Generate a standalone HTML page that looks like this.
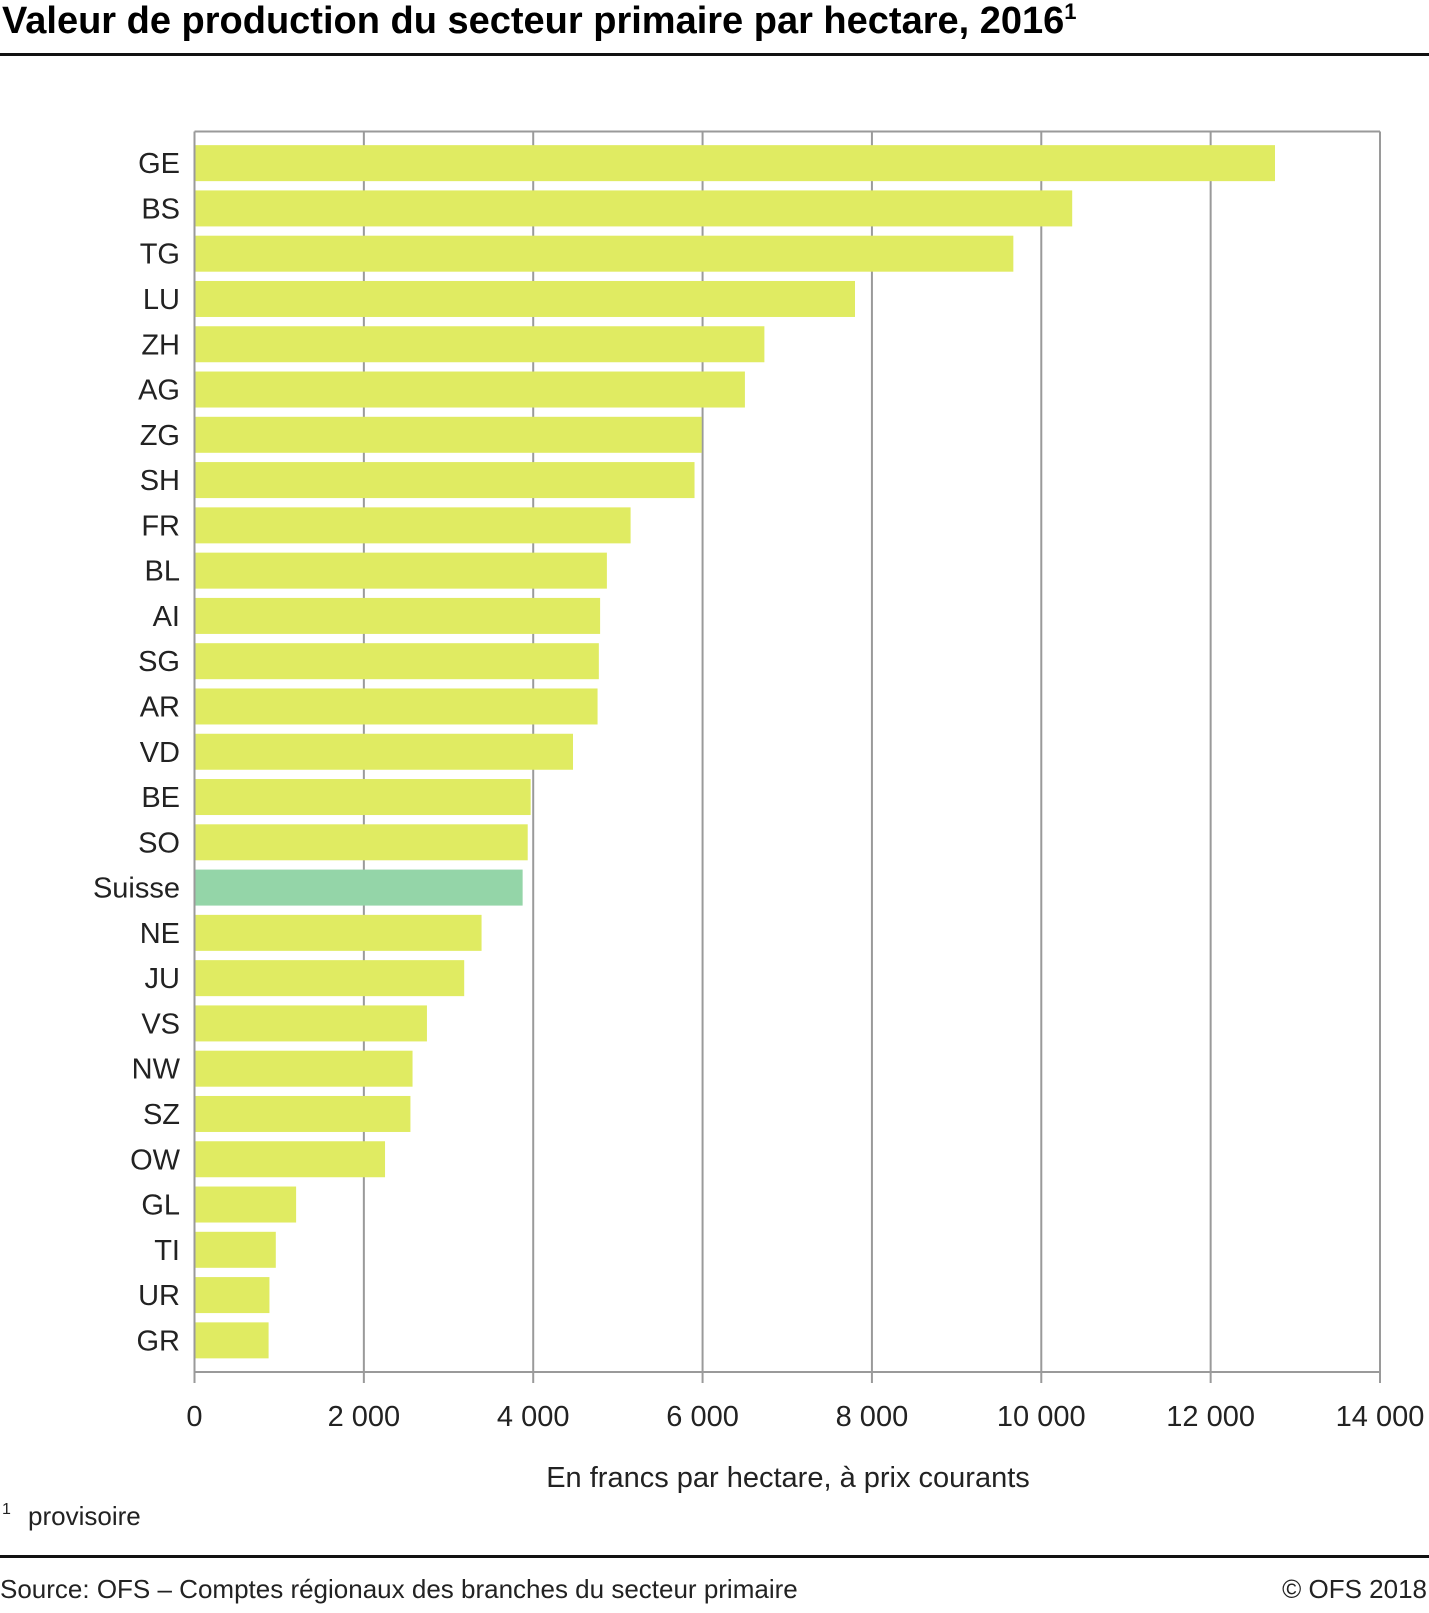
<!DOCTYPE html>
<html><head><meta charset="utf-8"><style>
body{margin:0;background:#fff;}
svg{display:block;font-family:"Liberation Sans",sans-serif;}
</style></head><body>
<svg id="chart" width="1429" height="1613" viewBox="0 0 1429 1613" xmlns="http://www.w3.org/2000/svg">
<text x="2" y="33" font-size="38" font-weight="bold" fill="#000">Valeur de production du secteur primaire par hectare, 2016<tspan font-size="22" dy="-14">1</tspan></text>
<rect x="0" y="53" width="1429" height="3" fill="#111"/>
<g id="grid"></g><g id="bars"></g><g id="labels"></g>
<text x="788" y="1487" font-size="29" text-anchor="middle" fill="#222">En francs par hectare, à prix courants</text>
<text x="2" y="1514" font-size="16" fill="#222">1</text>
<text x="28" y="1525" font-size="26" fill="#222">provisoire</text>
<rect x="0" y="1555" width="1429" height="3" fill="#111"/>
<text x="0" y="1598" font-size="26" fill="#222">Source: OFS – Comptes régionaux des branches du secteur primaire</text>
<text x="1427" y="1598" font-size="26" text-anchor="end" fill="#222">© OFS  2018</text>
</svg>
<script>
const categories=["GE","BS","TG","LU","ZH","AG","ZG","SH","FR","BL","AI","SG","AR","VD","BE","SO","Suisse","NE","JU","VS","NW","SZ","OW","GL","TI","UR","GR"];
const values=[12760,10365,9670,7800,6730,6500,5990,5905,5150,4870,4790,4775,4760,4470,3970,3935,3875,3390,3185,2745,2575,2550,2250,1200,960,885,875];
const ticks=[0,2000,4000,6000,8000,10000,12000,14000];
const tickLabels=["0","2 000","4 000","6 000","8 000","10 000","12 000","14 000"];
const NS="http://www.w3.org/2000/svg";
const PL=194.5,PR=1380,PT=131.5,PB=1372,maxV=14000,PAD=9;
const xs=v=>PL+(PR-PL)*v/maxV;
const band=(PB-PT-2*PAD)/categories.length;
const ys=i=>PT+PAD+band*i;
function mk(tag,attrs,parent){const e=document.createElementNS(NS,tag);for(const k in attrs)e.setAttribute(k,attrs[k]);parent.appendChild(e);return e;}
const grid=document.getElementById('grid'),bars=document.getElementById('bars'),labels=document.getElementById('labels');
ticks.forEach((t,i)=>{
 const l=mk('line',{x1:xs(t),x2:xs(t),y1:PT,y2:PB+11,stroke:'#9a9a9a','stroke-width':2},grid);
 
 
 const tx=mk('text',{x:xs(t),y:1426,'font-size':29,'text-anchor':'middle',fill:'#222'},grid);
 tx.textContent=tickLabels[i];
 
 
});
const plotTop=mk('line',{x1:PL,x2:PR,y1:PT,y2:PT,stroke:'#9a9a9a','stroke-width':2},grid);


const plotBottom=mk('line',{x1:PL,x2:PR,y1:PB,y2:PB,stroke:'#9a9a9a','stroke-width':2},grid);


categories.forEach((c,i)=>{
 const bh=36;
 const r=mk('rect',{x:PL+1,y:ys(i)+(band-bh)/2,width:xs(values[i])-PL-1,height:bh,fill:c==='Suisse'?'#94d5a8':'#e0eb62'},bars);
 
 
 const t=mk('text',{x:180,y:ys(i)+band/2+10,'font-size':29,'text-anchor':'end',fill:'#222'},labels);
 t.textContent=c;
 
 
});
</script>
</body></html>
